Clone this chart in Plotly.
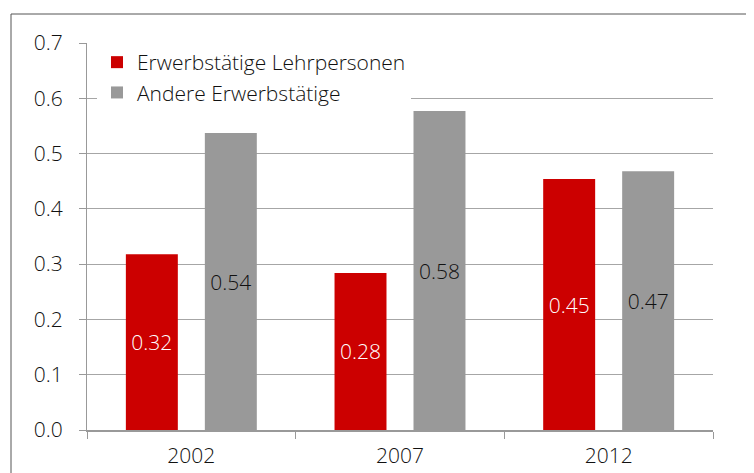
import plotly.graph_objects as go

years = ["2002", "2007", "2012"]
lehr = [0.318, 0.284, 0.454]
andere = [0.537, 0.577, 0.468]
series_names = ["Erwerbstätige Lehrpersonen", "Andere Erwerbstätige"]
y_ticks = [0.0, 0.1, 0.2, 0.3, 0.4, 0.5, 0.6, 0.7]

FONT = "Open Sans"
FS = 21
TXT = "#111111"
fig = go.Figure()
fig.add_trace(go.Bar(
    x=years, y=lehr, name=series_names[0], legendgroup="a",
    marker=dict(color="#cc0000", line=dict(width=0)),
    texttemplate="%{y:.2f}", textposition="inside", insidetextanchor="middle",
    textfont=dict(color="white", size=FS, family=FONT, weight=300), textangle=0,
))
fig.add_trace(go.Bar(
    x=years, y=andere, name=series_names[1], legendgroup="b",
    marker=dict(color="#999999", line=dict(width=0)),
    texttemplate="%{y:.2f}", textposition="inside", insidetextanchor="middle",
    textfont=dict(color=TXT, size=FS, family=FONT, weight=300), textangle=0,
))

fig.update_layout(
    width=754, height=473,
    margin=dict(l=79, r=49, t=35, b=51),
    paper_bgcolor="white", plot_bgcolor="white",
    barmode="group", bargap=0.243, bargroupgap=0.342,
    font=dict(family=FONT, size=FS, color=TXT, weight=300),
    legend=dict(x=(97 - 87) / 626, y=1 - (42 - 43) / 387, xanchor="left", yanchor="top",
                bgcolor="white", borderwidth=0,
                font=dict(size=21, family=FONT, color=TXT, weight=300),
                tracegroupgap=0, itemwidth=30),
    showlegend=True,
    shapes=[dict(type="rect", xref="paper", yref="paper",
                 x0=(11 - 87) / 626, x1=1.5, y0=-0.5, y1=1 + (43 - 14) / 387,
                 line=dict(color="#555555", width=1), fillcolor="rgba(0,0,0,0)", layer="below")],
)
fig.update_xaxes(
    type="category", showline=True, linecolor="#999999", linewidth=2,
    ticks="outside", tickson="boundaries", ticklen=7, tickcolor="#999999", tickwidth=1,
    ticklabelstandoff=6,
    showgrid=False, tickfont=dict(size=FS, family=FONT, color=TXT, weight=300),
)
fig.update_yaxes(
    range=[0, 0.7], tickvals=y_ticks, tickformat=".1f",
    showline=True, linecolor="#999999", linewidth=1,
    ticks="outside", ticklen=7, tickcolor="#999999",
    ticklabelstandoff=12,
    showgrid=True, gridcolor="#a6a6a6", gridwidth=1, zeroline=False,
    tickfont=dict(size=FS, family=FONT, color=TXT, weight=300),
)

fig.write_html("out.html")
